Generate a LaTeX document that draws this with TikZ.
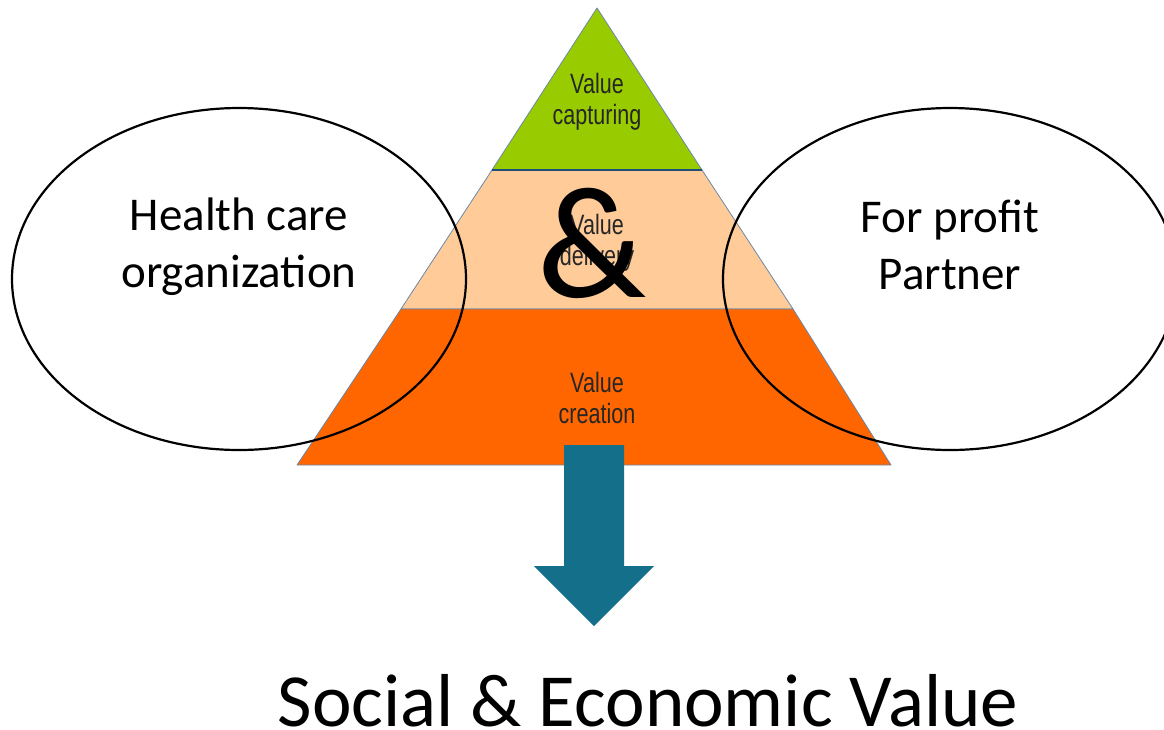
\documentclass[tikz,border=0pt]{standalone}
\usepackage{fontspec}
\setmainfont{Carlito}
\newfontfamily\lblfont[FakeStretch=0.77]{Liberation Sans}
\usetikzlibrary{shapes.geometric,positioning}

\definecolor{capgreen}{HTML}{99CC00}
\definecolor{delpeach}{HTML}{FFCC99}
\definecolor{creorange}{HTML}{FF6600}
\definecolor{arrowteal}{HTML}{136F8A}
\definecolor{edgeblue}{HTML}{6A88A8}
\definecolor{bandnavy}{HTML}{1F4E79}

\begin{document}
\begin{tikzpicture}[x=1pt,y=-1pt,line join=round,
  band/.style={draw=edgeblue, line width=0.8pt},
  ring/.style={draw=black, line width=2.2pt, ellipse, minimum width=454pt, minimum height=342pt, inner sep=0pt},
  lbl/.style={font=\lblfont\fontsize{28}{31}\selectfont, align=center, text=black!85},
  party/.style={font=\fontsize{47}{57}\selectfont, align=center}]

	\useasboundingbox (0,0) rectangle (1164,729);

	% pyramide, drie lagen
	\path[band, fill=capgreen] (597,8) -- (492,170) -- (702,170) -- cycle;
	\path[band, fill=delpeach] (492,170) -- (401,309) -- (793,309) -- (702,170) -- cycle;
	\path[band, fill=creorange] (401,309) -- (297,465) -- (891,465) -- (793,309) -- cycle;
	\draw[bandnavy, line width=2pt] (492,170) -- (702,170);

	\node[lbl] (cap) at (597,102) {Value\\capturing};
	\node[lbl] (del) at (597,243) {Value\\delivery};
	\node[lbl] (cre) at (597,398) {Value\\creation};

	% de twee partijen
	\node[ring] (hco) at (239,279) {};
	\node[ring] (fpp) at (950,279) {};
	\node[party] (hcotxt) at (239,247) {Health care\\organization};
	\node[party] (fpptxt) at (950,245) {For profit\\Partner};

	\node[font=\fontsize{160}{160}\selectfont, anchor=base] (amp) at (592,297) {\&};

	% pijl naar beneden
	\fill[arrowteal] (564,445) -- (624,445) -- (624,566) -- (654,566) -- (594,626)
		-- (534,566) -- (564,566) -- cycle;

	\node[font=\fontsize{75}{80}\selectfont, anchor=base] (sev) at (648,726) {Social \& Economic Value};

\end{tikzpicture}
\end{document}
